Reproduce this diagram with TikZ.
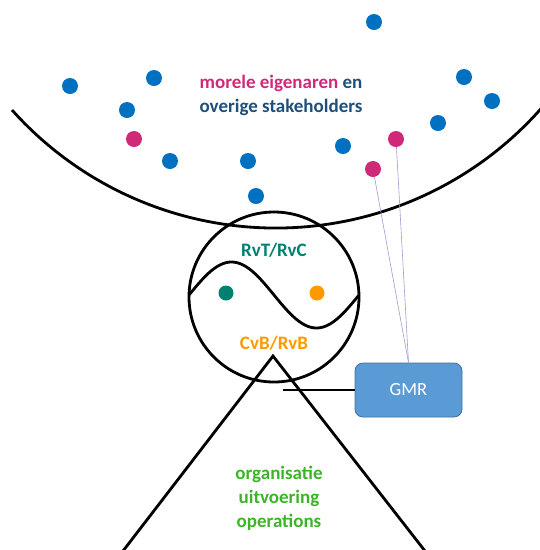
\documentclass[tikz,border=0pt]{standalone}
\usepackage{fontspec}
\setmainfont{Carlito}
\usepackage{tikz}
\usetikzlibrary{positioning}
\definecolor{mgblue}{RGB}{0,112,192}
\definecolor{mgpink}{RGB}{207,42,122}
\definecolor{mgnavy}{RGB}{31,78,121}
\definecolor{mgteal}{RGB}{0,128,112}
\definecolor{mgorange}{RGB}{255,153,0}
\definecolor{mggreen}{RGB}{60,180,40}
\definecolor{mgbox}{RGB}{91,155,213}
\definecolor{mgboxline}{RGB}{65,113,156}
\definecolor{mgline}{RGB}{170,150,210}
\tikzstyle{member} = [circle, minimum size=16pt, inner sep=0pt, fill=mgblue]
\tikzstyle{owner} = [member, fill=mgpink]
\tikzstyle{bigline} = [line width=2.8pt, color=black]
\tikzstyle{txt} = [font=\bfseries\fontsize{19}{24}\selectfont, align=center, inner sep=0pt]
\tikzstyle{gmrbox} = [rectangle, rounded corners=8pt, minimum width=107pt, minimum height=54pt, draw=mgboxline, fill=mgbox, text=white, thick, font=\fontsize{18.5}{22}\selectfont]
\tikzstyle{gmrlink} = [color=mgline, line width=0.6pt]

\begin{document}
\begin{tikzpicture}[x=1pt, y=-1pt]
    \useasboundingbox (0,0) rectangle (540,550);

    % Stakeholders
    \draw[bigline] (12,110) arc[start angle=138.2, end angle=36, radius=354];
    \node[txt] (title) at (281,95) {\textcolor{mgpink}{morele eigenaren} \textcolor{mgnavy}{en}\\ \textcolor{mgnavy}{overige stakeholders}};
    \node[member] (s1) at (374,22) {};
    \node[member] (s2) at (70,86) {};
    \node[member] (s3) at (154,78) {};
    \node[member] (s4) at (127,110) {};
    \node[member] (s5) at (464,77) {};
    \node[member] (s6) at (492,101) {};
    \node[member] (s7) at (438,123) {};
    \node[member] (s8) at (343,146) {};
    \node[member] (s9) at (170,161) {};
    \node[member] (s10) at (248,161) {};
    \node[member] (s11) at (256,196) {};
    \node[owner] (p1) at (134,139) {};
    \node[owner] (p2) at (396,139) {};
    \node[owner] (p3) at (373,169) {};

    % Board
    \draw[bigline] (274,297) circle[radius=85];
    \draw[bigline] plot[domain=189:359, samples=80, smooth] (\x, {295 - 33*sin((\x-189)/170*360)});
    \node[txt, text=mgteal] (rvt) at (274,250) {RvT/RvC};
    \node[txt, text=mgorange] (cvb) at (274,343) {CvB/RvB};
    \node[member, minimum size=15pt, fill=mgteal] (d1) at (226,293) {};
    \node[member, minimum size=15pt, fill=mgorange] (d2) at (317,293) {};

    % Organisation
    \coordinate (apex) at (273,356);
    \coordinate (baseL) at (123,551);
    \coordinate (baseR) at (425,551);
    \draw[bigline] (baseL) -- (apex) -- (baseR);
    \node[txt, text=mggreen] (org) at (279,498) {organisatie\\ uitvoering\\ operations};

    % GMR
    \node[gmrbox] (gmr) at (408.5,390) {GMR};
    \coordinate (stem) at (283,390);
    \draw[bigline] (stem) -- (gmr.west);
    \draw[gmrlink] (p2) -- (gmr.north);
    \draw[gmrlink] (p3) -- (gmr.north);
\end{tikzpicture}
\end{document}
